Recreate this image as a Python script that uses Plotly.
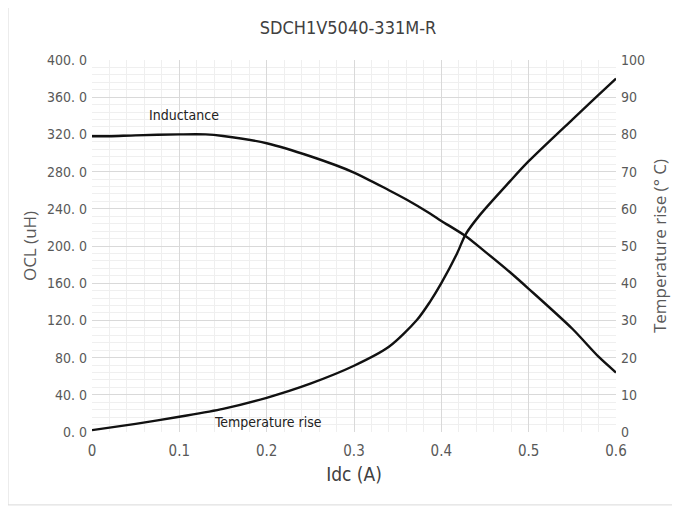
import plotly.graph_objects as go

idc_ind = [0, 0.02, 0.05, 0.1, 0.13, 0.15, 0.2, 0.25, 0.3, 0.34, 0.36, 0.387, 0.4, 0.428, 0.45, 0.479, 0.5, 0.55, 0.58, 0.6]
inductance = [318, 318, 319, 320, 320, 318.3, 310.5, 296.5, 279, 260, 250, 235, 227, 210.5, 194, 171.5, 154, 111, 81, 64]

idc_temp = [0, 0.05, 0.1, 0.15, 0.2, 0.25, 0.3, 0.34, 0.372, 0.387, 0.4, 0.418, 0.428, 0.444, 0.479, 0.5, 0.55, 0.58, 0.6]
temp_rise = [0.5, 2.2, 4.1, 6.2, 9.2, 13.0, 17.8, 22.9, 30.1, 35, 40, 48, 53.2, 58.3, 67.5, 72.8, 84, 90.6, 95]

x_ticks = [0, 0.1, 0.2, 0.3, 0.4, 0.5, 0.6]
x_ticktext = ["0", "0.1", "0.2", "0.3", "0.4", "0.5", "0.6"]
left_ticks = [0, 40, 80, 120, 160, 200, 240, 280, 320, 360, 400]
left_ticktext = ["0. 0", "40. 0", "80. 0", "120. 0", "160. 0", "200. 0", "240. 0", "280. 0", "320. 0", "360. 0", "400. 0"]
right_ticks = [0, 10, 20, 30, 40, 50, 60, 70, 80, 90, 100]

NARROW = "'Liberation Sans Narrow', 'DejaVu Sans Condensed', 'Roboto Condensed', 'Arial Narrow', Roboto, sans-serif"
SANS = "'Open Sans', 'Noto Sans', sans-serif"
GRAY = "#595959"

fig = go.Figure()
fig.add_trace(go.Scatter(x=idc_ind, y=inductance, mode="lines",
                         line=dict(color="#111111", width=2.4, shape="spline", smoothing=0.8),
                         name="Inductance", yaxis="y"))
fig.add_trace(go.Scatter(x=idc_temp, y=temp_rise, mode="lines",
                         line=dict(color="#111111", width=2.4, shape="spline", smoothing=0.8),
                         name="Temperature rise", yaxis="y2"))

grid_major = "#d9d9d9"
grid_minor = "#efefef"

fig.update_layout(
    width=680, height=508,
    margin=dict(l=84, r=72, t=52, b=84),
    paper_bgcolor="white", plot_bgcolor="white",
    showlegend=False,
    title=dict(text="SDCH1V5040-331M-R", x=0.5, xanchor="center", y=1 - 20 / 508, yanchor="middle",
               font=dict(family=NARROW, size=18, color="#404040")),
    xaxis=dict(range=[0, 0.6], tickvals=x_ticks, ticktext=x_ticktext, showgrid=True, gridcolor=grid_major,
               minor=dict(dtick=0.02, showgrid=True, gridcolor=grid_minor), zeroline=False,
               showline=False, ticks="", ticklabelstandoff=8, tickfont=dict(family=NARROW, size=15, color=GRAY),
               title=dict(text="Idc (A)", font=dict(family=NARROW, size=19, color="#404040"), standoff=8)),
    yaxis=dict(range=[0, 400], tickvals=left_ticks, ticktext=left_ticktext, showgrid=True, gridcolor=grid_major,
               minor=dict(dtick=8, showgrid=True, gridcolor=grid_minor), zeroline=False, showline=False,
               ticks="", ticklabelstandoff=4, tickfont=dict(family=NARROW, size=14, color=GRAY),
               title=dict(text="OCL (uH)", font=dict(family=SANS, size=17, color=GRAY), standoff=6)),
    yaxis2=dict(range=[0, 100], tickvals=right_ticks, overlaying="y", side="right", showgrid=False,
                zeroline=False, showline=False, ticks="", ticklabelstandoff=4,
                tickfont=dict(family=NARROW, size=14, color=GRAY),
                title=dict(text="Temperature rise (° C)", font=dict(family=SANS, size=17, color=GRAY), standoff=10)),
    shapes=[dict(type="rect", xref="paper", yref="paper", x0=-0.1603, x1=1.12, y0=-0.196, y1=1.1425,
                 line=dict(color="#d9d9d9", width=1), fillcolor="rgba(0,0,0,0)", layer="below")],
    annotations=[
        dict(x=0.105, y=341, xref="x", yref="y", text="Inductance", showarrow=False,
             font=dict(family=NARROW, size=14, color="#222222")),
        dict(x=0.2015, y=10.7, xref="x", yref="y", text="Temperature rise", showarrow=False,
             font=dict(family=NARROW, size=14, color="#222222")),
    ],
)

fig.write_html("out.html")
